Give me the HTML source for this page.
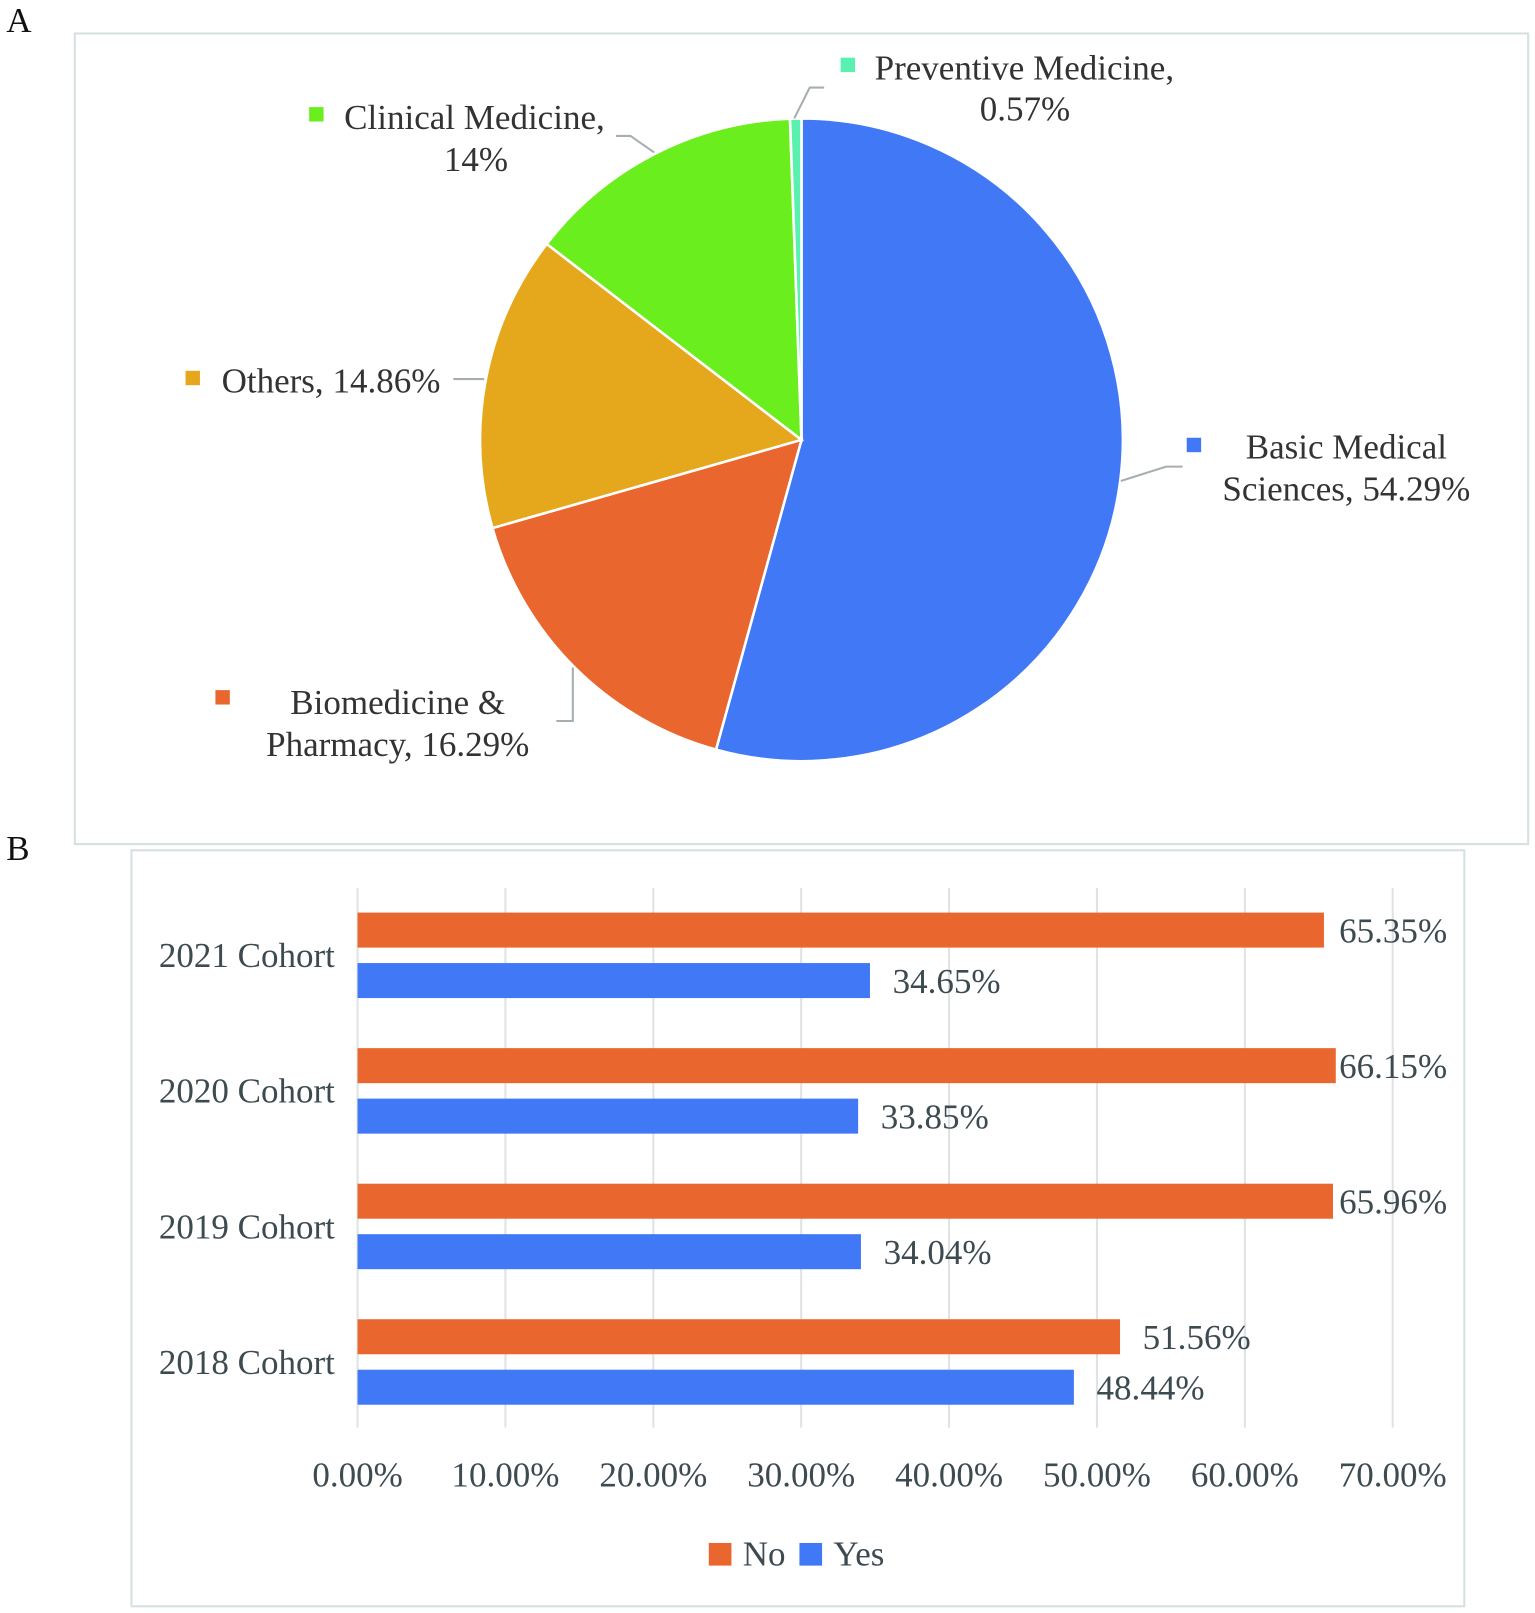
<!DOCTYPE html>
<html><head><meta charset="utf-8"><style>
html,body{margin:0;padding:0;background:#fff;}
svg{display:block;font-family:"Liberation Serif",serif;}
</style></head><body>
<svg id="fig" width="1535" height="1613" viewBox="0 0 1490 1566" xmlns="http://www.w3.org/2000/svg">
<text x="6" y="31" font-size="34" fill="#111">A</text>
<rect x="72.5" y="32.5" width="1411" height="787" fill="none" stroke="#d6dfe1" stroke-width="2"/>
<g id="pie"></g>
<g id="pieLabels" font-size="34" fill="#333">
<rect x="300" y="104" width="14" height="14" fill="#6AEE1E"/>
<text x="334" y="125">Clinical Medicine,</text>
<text x="462" y="166" text-anchor="middle">14%</text>
<polyline points="598,132 612,132 635,148" fill="none" stroke="#a6aeb0" stroke-width="2"/>
<rect x="816" y="56" width="14" height="14" fill="#5AF0B0"/>
<text x="849" y="77">Preventive Medicine,</text>
<text x="995" y="117" text-anchor="middle">0.57%</text>
<polyline points="800,85 786,85 771,115" fill="none" stroke="#a6aeb0" stroke-width="2"/>
<rect x="180" y="360" width="14" height="14" fill="#E5A81C"/>
<text x="215" y="381">Others, 14.86%</text>
<line x1="440" y1="368" x2="470" y2="368" stroke="#a6aeb0" stroke-width="2"/>
<rect x="1152" y="425" width="14" height="14" fill="#4178F5"/>
<text x="1307" y="445" text-anchor="middle">Basic Medical</text>
<text x="1307" y="486" text-anchor="middle">Sciences, 54.29%</text>
<polyline points="1088,467 1132,453 1148,453" fill="none" stroke="#a6aeb0" stroke-width="2"/>
<rect x="209" y="670" width="14" height="14" fill="#EA662F"/>
<text x="386" y="693" text-anchor="middle">Biomedicine &amp;</text>
<text x="386" y="734" text-anchor="middle">Pharmacy, 16.29%</text>
<polyline points="540,700 556,700 556,648" fill="none" stroke="#a6aeb0" stroke-width="2"/>
</g>

<text x="6" y="835" font-size="34" fill="#111">B</text>
<rect x="127.5" y="825.5" width="1294" height="734" fill="none" stroke="#d6dfe1" stroke-width="2"/>
<g id="bar"></g>
<g font-size="34" fill="#3d4b50">
<rect x="688" y="1498" width="22" height="22" fill="#EA662F"/>
<text x="721" y="1520">No</text>
<rect x="776" y="1498" width="22" height="22" fill="#4178F5"/>
<text x="809" y="1520">Yes</text>
</g>
</svg>
<script>
const sliceNames = ["Basic Medical Sciences","Biomedicine & Pharmacy","Others","Clinical Medicine","Preventive Medicine"];
const sliceValues = [54.29,16.29,14.86,14,0.57];
const sliceColors = ["#4178F5","#EA662F","#E5A81C","#6AEE1E","#5AF0B0"];

const categories = ["2021 Cohort","2020 Cohort","2019 Cohort","2018 Cohort"];
const noValues = [65.35,66.15,65.96,51.56];
const yesValues = [34.65,33.85,34.04,48.44];
const ticks = [0,10,20,30,40,50,60,70];
const tickLabels = ["0.00%","10.00%","20.00%","30.00%","40.00%","50.00%","60.00%","70.00%"];

const NS="http://www.w3.org/2000/svg";
function mk(tag, attrs, parent){const e=document.createElementNS(NS,tag);for(const k in attrs)e.setAttribute(k,attrs[k]);parent.appendChild(e);return e;}

const pie=document.getElementById('pie');
const cx=778, cy=427, r=312;
const total=sliceValues.reduce((a,b)=>a+b,0);
let acc=0;
sliceValues.forEach((v,i)=>{
  const a0=acc/total*2*Math.PI; acc+=v; const a1=acc/total*2*Math.PI;
  const x0=cx+r*Math.sin(a0), y0=cy-r*Math.cos(a0), x1=cx+r*Math.sin(a1), y1=cy-r*Math.cos(a1);
  const large=(a1-a0)>Math.PI?1:0;
  const p=mk('path',{d:`M${cx},${cy} L${x0},${y0} A${r},${r} 0 ${large} 1 ${x1},${y1} Z`,fill:sliceColors[i],stroke:'#fff','stroke-width':2.5},pie);
  
  
});

const bar=document.getElementById('bar');
const x0=347, pxPer=(1352-347)/70;
const xs=v=>x0+v*pxPer;
const gTop=886, gStep=131.6, bh=34, gap=49;
ticks.forEach((t,i)=>{
  const gl=mk('line',{x1:xs(t),x2:xs(t),y1:862,y2:1386,stroke:'#dfe3e4','stroke-width':2},bar);
  
  
  const tl=mk('text',{x:xs(t),y:1443,'text-anchor':'middle','font-size':34,fill:'#3d4b50'},bar);
  tl.textContent=tickLabels[i];
  
  
});
categories.forEach((c,i)=>{
  const y=gTop+i*gStep;
  const cl=mk('text',{x:325,y:y+53,'text-anchor':'end','font-size':34,fill:'#3d4b50'},bar);
  cl.textContent=c;
  
  
  [[noValues[i],'#EA662F',y,'no'],[yesValues[i],'#4178F5',y+gap,'yes']].forEach(([v,col,yy,s])=>{
    const b=mk('rect',{x:x0,y:yy,width:xs(v)-x0,height:bh,fill:col},bar);
    
    
    const lx=Math.min(xs(v)+22,1300);
    const lt=mk('text',{x:lx,y:yy+29,'font-size':34,fill:'#3d4b50'},bar);
    lt.textContent=v.toFixed(2)+'%';
    
    
  });
});
</script>
</body></html>
